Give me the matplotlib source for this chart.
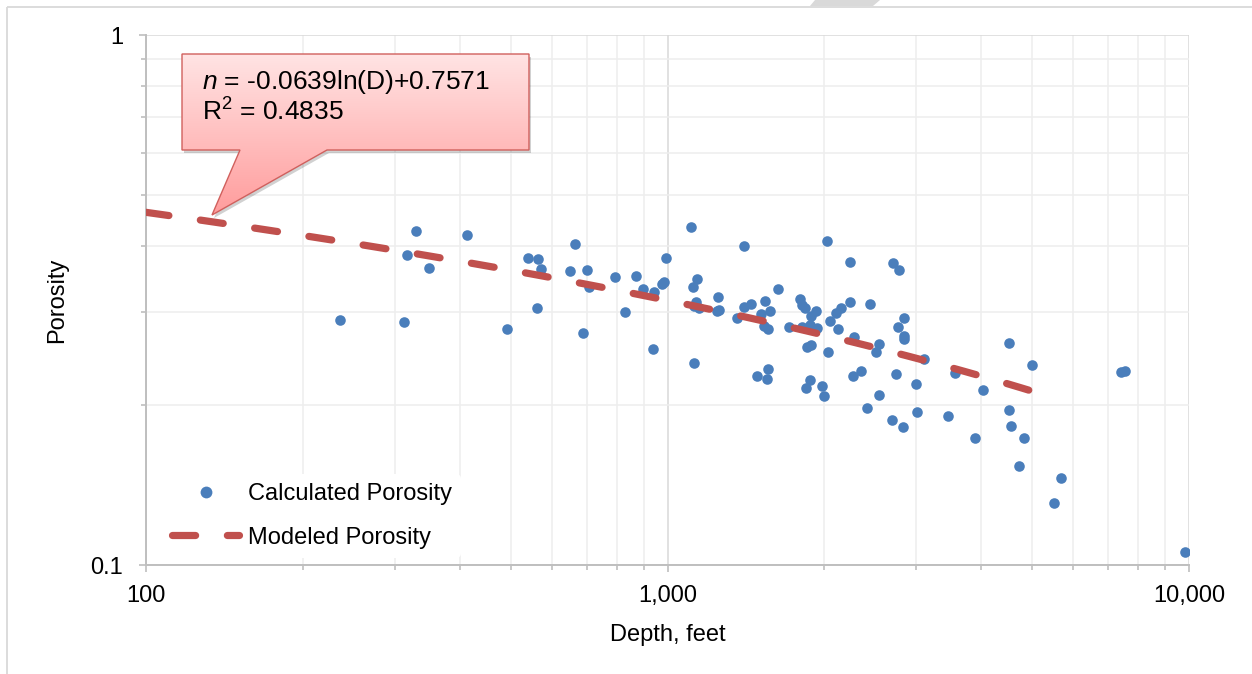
import numpy as np
import matplotlib.pyplot as plt
from matplotlib.patches import Polygon, Rectangle
from matplotlib.lines import Line2D
from matplotlib.colors import LinearSegmentedColormap
from matplotlib.ticker import FixedLocator, FixedFormatter, NullFormatter

plt.rcParams['font.family'] = ['Liberation Sans', 'DejaVu Sans']
plt.rcParams['font.size'] = 17
plt.rcParams['mathtext.fontset'] = 'custom'
plt.rcParams['mathtext.rm'] = 'Liberation Sans'
plt.rcParams['mathtext.it'] = 'Liberation Sans:italic'

# calculated porosity points (depth in feet)
depth = [236, 313, 316, 329, 349, 412, 492, 541, 565, 572, 561, 664, 649, 702,
         708, 688, 792, 828, 869, 898, 941, 938, 976, 985, 993, 1110, 1118,
         1138, 1134, 1124, 1149, 1123, 1252, 1243, 1255, 1404, 1357, 1404,
         1444, 1513, 1540, 1574, 1627, 1531, 1558, 1483, 1558, 1551, 1710,
         1793, 1809, 1835, 1809, 1887, 1924, 1876, 1938, 1851, 1887, 1843,
         1878, 1981, 1996, 2020, 2034, 2102, 2148, 2052, 2121, 2236, 2236,
         2279, 2272, 2347, 2410, 2445, 2547, 2507, 2547, 2710, 2783, 2845,
         2767, 2845, 2841, 2739, 2691, 2833, 3000, 3006, 3104, 3451, 3559,
         4022, 3887, 4517, 4517, 4557, 4820, 5000, 4715, 5684, 5504, 7396,
         7541, 9824]
porosity = [0.290, 0.287, 0.385, 0.426, 0.363, 0.419, 0.279, 0.380, 0.378,
            0.362, 0.305, 0.403, 0.359, 0.361, 0.335, 0.274, 0.350, 0.300,
            0.351, 0.331, 0.328, 0.256, 0.339, 0.342, 0.380, 0.435, 0.334,
            0.347, 0.313, 0.308, 0.305, 0.241, 0.320, 0.301, 0.303, 0.399,
            0.293, 0.307, 0.311, 0.297, 0.315, 0.302, 0.332, 0.283, 0.279,
            0.227, 0.234, 0.224, 0.281, 0.317, 0.309, 0.306, 0.281, 0.295,
            0.302, 0.284, 0.280, 0.258, 0.260, 0.216, 0.223, 0.218, 0.208,
            0.409, 0.252, 0.299, 0.305, 0.289, 0.279, 0.373, 0.313, 0.269,
            0.227, 0.232, 0.198, 0.311, 0.261, 0.252, 0.209, 0.371, 0.361,
            0.292, 0.281, 0.271, 0.267, 0.229, 0.188, 0.182, 0.220, 0.194,
            0.245, 0.191, 0.230, 0.214, 0.174, 0.262, 0.196, 0.183, 0.174,
            0.238, 0.154, 0.146, 0.131, 0.231, 0.232, 0.106]

# modeled porosity from the fit shown on the chart: n = a*ln(D) + b
fit_a = -0.0639
fit_b = 0.7571
fit_r2 = 0.4835
model_depth = np.geomspace(100, 5000, 80)
model_porosity = fit_a * np.log(model_depth) + fit_b

xticks = [100, 1000, 10000]
xticklabels = ['100', '1,000', '10,000']
yticks = [0.1, 1]
yticklabels = ['0.1', '1']

blue = '#4A7EBB'
red = '#C0504D'
dash = (3.2, 4.4)

fig = plt.figure(figsize=(12.52, 6.74), dpi=100)
W, H = 1252, 674
ax = fig.add_axes([146 / W, 1 - 565 / H, (1189 - 146) / W, (565 - 35) / H])

ax.set_xscale('log')
ax.set_yscale('log')
ax.set_xlim(100, 10000)
ax.set_ylim(0.1, 1)

ax.scatter(depth, porosity, s=58, color=blue, zorder=3, linewidths=0)
ax.plot(model_depth, model_porosity, color=red, lw=5.2, dashes=dash,
        dash_capstyle='round', solid_capstyle='round', zorder=4)

ax.xaxis.set_major_locator(FixedLocator(xticks))
ax.xaxis.set_major_formatter(FixedFormatter(xticklabels))
ax.yaxis.set_major_locator(FixedLocator(yticks))
ax.yaxis.set_major_formatter(FixedFormatter(yticklabels))
ax.xaxis.set_minor_formatter(NullFormatter())
ax.yaxis.set_minor_formatter(NullFormatter())

ax.grid(True, which='major', color='#D9D9D9', lw=1.1)
ax.grid(True, which='minor', color='#EEEEEE', lw=1.1)
ax.set_axisbelow(True)

for s in ['top', 'right']:
    ax.spines[s].set_visible(False)
for s in ['left', 'bottom']:
    ax.spines[s].set_color('#BFBFBF')
    ax.spines[s].set_linewidth(1.4)

ax.tick_params(axis='both', which='major', direction='out', length=5,
               width=1.2, color='#BFBFBF', labelsize=17)
ax.tick_params(axis='both', which='minor', direction='out', length=3.5,
               width=1.2, color='#BFBFBF')
ax.tick_params(axis='x', which='major', pad=9.5)
ax.tick_params(axis='y', which='major', pad=11.5)

ax.set_xlabel('Depth, feet', fontsize=17, labelpad=12)
ax.set_ylabel('Porosity', fontsize=17, labelpad=16)

handles = [
    Line2D([], [], marker='o', ls='none', color=blue, markersize=8.5,
           markeredgewidth=0),
    Line2D([], [], color=red, lw=5.2, dashes=dash, dash_capstyle='round'),
]
leg = ax.legend(handles, ['Calculated Porosity', 'Modeled Porosity'],
                loc='upper left', bbox_to_anchor=(0.016, 0.172),
                borderaxespad=0, borderpad=0.4, handlelength=2.85,
                handletextpad=0.35, labelspacing=0.9, frameon=True,
                fontsize=17)
leg.get_frame().set_facecolor('white')
leg.get_frame().set_edgecolor('none')
leg.get_frame().set_alpha(1)
leg.set_zorder(5)

# overlay in pixel coordinates for the callout and chart border
ov = fig.add_axes([0, 0, 1, 1], zorder=10)
ov.patch.set_alpha(0)
ov.axis('off')

ov.add_patch(Rectangle((7, 7), 1400, 800, fill=False, edgecolor='#D9D9D9',
                       lw=1.3))
ov.add_patch(Polygon([(815, 0), (880, 0), (873, 6), (810, 6)], closed=True,
                     facecolor='#D9D9D9', edgecolor='none'))

callout = [(182, 54), (529, 54), (529, 150), (327, 150), (212, 215),
           (240, 150), (182, 150)]
shadow = Polygon([(x + 2, y + 3) for x, y in callout], closed=True,
                 facecolor='#000000', alpha=0.18, edgecolor='none')
ov.add_patch(shadow)
grad_cmap = LinearSegmentedColormap.from_list('pink', ['#FFE4E4', '#FF9C9C'])
grad = np.linspace(0, 1, 256).reshape(-1, 1)
img = ov.imshow(grad, extent=(182, 529, 215, 54), aspect='auto',
                cmap=grad_cmap, zorder=2, interpolation='bilinear')
box = Polygon(callout, closed=True, facecolor='none', edgecolor='#D0605D',
              lw=1.0, zorder=3)
ov.add_patch(box)
img.set_clip_path(box)

ov.text(202, 82, r'$\it{n}$ = -0.0639ln(D)+0.7571', fontsize=19,
        va='center', ha='left', zorder=4)
ov.text(202, 112, 'R$^2$ = %.4f' % fit_r2, fontsize=19, va='center',
        ha='left', zorder=4)

ov.set_xlim(0, W)
ov.set_ylim(H, 0)

fig.savefig('out.png', dpi=100)
